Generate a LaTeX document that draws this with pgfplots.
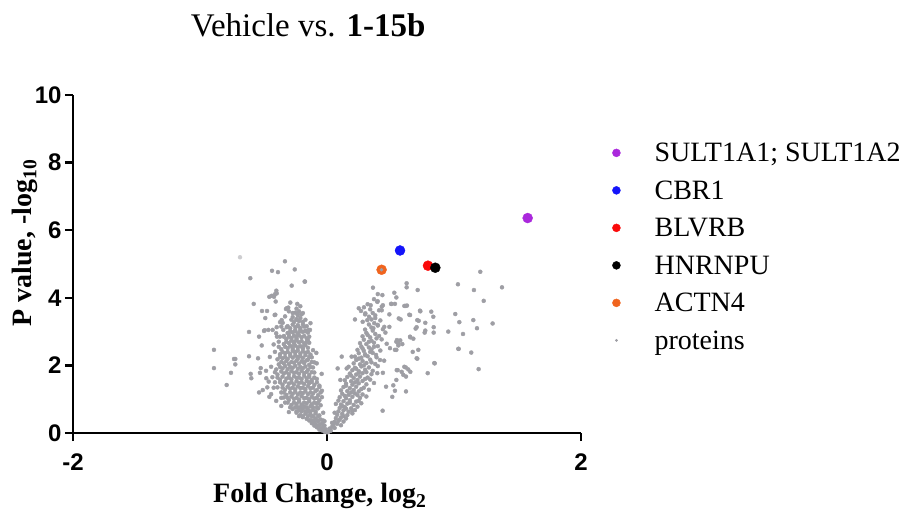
\documentclass[border=0pt]{standalone}
\usepackage{fontspec}
\setmainfont{Liberation Serif}
\newfontfamily\arial{Liberation Sans}
\usepackage{pgfplots}
\usepackage{pgfplotstable}
\pgfplotsset{compat=1.18}
\definecolor{pgray}{RGB}{158,158,164}
\definecolor{plgray}{RGB}{205,205,208}
\definecolor{ppurple}{RGB}{170,40,220}
\definecolor{pblue}{RGB}{20,20,250}
\definecolor{pred}{RGB}{250,10,10}
\definecolor{porange}{RGB}{240,100,30}

% gray "proteins" cloud
\pgfplotstableread[row sep=\\]{x y\\
-0.02 0.04\\ -0.04 0.08\\ 0.00 0.02\\ -0.01 0.11\\
-0.05 0.14\\ -0.03 0.19\\ -0.08 0.17\\ -0.06 0.24\\
-0.09 0.26\\ -0.12 0.29\\ -0.04 0.28\\ -0.10 0.33\\ -0.07 0.35\\
-0.13 0.38\\ -0.16 0.42\\ -0.09 0.43\\ -0.05 0.40\\ -0.19 0.47\\ -0.12 0.49\\
-0.21 0.53\\ -0.17 0.57\\ -0.13 0.55\\ -0.09 0.58\\ -0.06 0.52\\ -0.24 0.60\\ -0.15 0.63\\
-0.22 0.67\\ -0.19 0.72\\ -0.15 0.70\\ -0.11 0.68\\ -0.07 0.73\\ -0.27 0.71\\ -0.25 0.76\\ -0.18 0.78\\ -0.13 0.79\\
-0.28 0.83\\ -0.24 0.86\\ -0.20 0.84\\ -0.16 0.88\\ -0.12 0.85\\ -0.08 0.87\\ -0.05 0.82\\ -0.31 0.90\\ -0.22 0.93\\ -0.14 0.94\\
-0.30 0.98\\ -0.26 1.01\\ -0.22 0.99\\ -0.18 1.03\\ -0.14 1.00\\ -0.10 1.02\\ -0.06 0.97\\ -0.34 1.05\\ -0.28 1.08\\ -0.20 1.09\\ -0.12 1.07\\ -0.04 1.06\\
-0.32 1.13\\ -0.27 1.16\\ -0.23 1.14\\ -0.19 1.18\\ -0.15 1.15\\ -0.11 1.17\\ -0.07 1.12\\ -0.36 1.20\\ -0.25 1.22\\ -0.17 1.23\\ -0.09 1.24\\
-0.33 1.28\\ -0.29 1.31\\ -0.25 1.29\\ -0.21 1.33\\ -0.17 1.30\\ -0.13 1.32\\ -0.08 1.27\\ -0.39 1.35\\ -0.31 1.37\\ -0.23 1.38\\ -0.15 1.39\\ -0.06 1.36\\
-0.35 1.43\\ -0.30 1.46\\ -0.26 1.44\\ -0.22 1.48\\ -0.18 1.45\\ -0.14 1.47\\ -0.10 1.42\\ -0.41 1.50\\ -0.33 1.52\\ -0.24 1.53\\ -0.16 1.54\\ -0.12 1.51\\
-0.37 1.58\\ -0.32 1.61\\ -0.28 1.59\\ -0.24 1.63\\ -0.20 1.60\\ -0.16 1.62\\ -0.12 1.57\\ -0.08 1.60\\ -0.43 1.65\\ -0.35 1.67\\ -0.26 1.68\\ -0.18 1.69\\ -0.14 1.66\\
-0.39 1.73\\ -0.34 1.76\\ -0.30 1.74\\ -0.26 1.78\\ -0.22 1.75\\ -0.18 1.77\\ -0.14 1.72\\ -0.10 1.79\\ -0.36 1.82\\ -0.28 1.83\\ -0.20 1.84\\ -0.16 1.81\\
-0.40 1.88\\ -0.35 1.91\\ -0.31 1.89\\ -0.27 1.93\\ -0.23 1.90\\ -0.19 1.92\\ -0.15 1.87\\ -0.11 1.94\\ -0.44 1.96\\ -0.33 1.98\\ -0.25 1.99\\ -0.17 1.97\\
-0.38 2.03\\ -0.34 2.06\\ -0.30 2.04\\ -0.26 2.08\\ -0.22 2.05\\ -0.18 2.07\\ -0.14 2.02\\ -0.10 2.09\\ -0.32 2.13\\ -0.24 2.14\\ -0.20 2.12\\ -0.16 2.15\\
-0.39 2.18\\ -0.35 2.21\\ -0.31 2.19\\ -0.27 2.23\\ -0.23 2.20\\ -0.19 2.22\\ -0.15 2.17\\ -0.12 2.24\\ -0.29 2.28\\ -0.25 2.29\\ -0.21 2.27\\ -0.17 2.30\\
-0.37 2.33\\ -0.33 2.36\\ -0.29 2.34\\ -0.25 2.38\\ -0.21 2.35\\ -0.17 2.37\\ -0.13 2.32\\ -0.27 2.43\\ -0.23 2.44\\ -0.19 2.42\\ -0.41 2.40\\
-0.36 2.48\\ -0.31 2.51\\ -0.27 2.49\\ -0.23 2.53\\ -0.19 2.50\\ -0.15 2.52\\ -0.29 2.58\\ -0.25 2.59\\ -0.21 2.57\\ -0.17 2.60\\
-0.34 2.63\\ -0.30 2.66\\ -0.26 2.64\\ -0.22 2.68\\ -0.18 2.65\\ -0.14 2.67\\ -0.28 2.73\\ -0.24 2.74\\ -0.20 2.72\\ -0.38 2.70\\
-0.32 2.78\\ -0.28 2.81\\ -0.24 2.79\\ -0.20 2.83\\ -0.16 2.80\\ -0.26 2.88\\ -0.22 2.89\\ -0.18 2.87\\ -0.30 2.92\\
-0.31 2.96\\ -0.27 2.98\\ -0.23 2.95\\ -0.19 2.99\\ -0.15 2.97\\ -0.25 3.04\\ -0.21 3.05\\ -0.17 3.03\\
-0.29 3.10\\ -0.25 3.13\\ -0.21 3.11\\ -0.18 3.15\\ -0.23 3.19\\ -0.27 3.21\\ -0.19 3.22\\
-0.26 3.28\\ -0.22 3.31\\ -0.19 3.29\\ -0.24 3.37\\ -0.21 3.40\\ -0.27 3.43\\
-0.23 3.48\\ -0.20 3.51\\ -0.25 3.56\\ -0.22 3.60\\ -0.24 3.68\\ -0.21 3.75\\
-0.03 0.10\\ -0.06 0.10\\ -0.07 0.22\\ -0.10 0.22\\ -0.02 0.22\\ -0.11 0.37\\ -0.14 0.37\\ -0.07 0.37\\ -0.03 0.37\\
-0.15 0.50\\ -0.19 0.50\\ -0.11 0.50\\ -0.07 0.50\\ -0.22 0.50\\ -0.20 0.64\\ -0.17 0.64\\ -0.13 0.64\\ -0.09 0.64\\ -0.24 0.64\\
-0.23 0.76\\ -0.21 0.76\\ -0.16 0.76\\ -0.11 0.76\\ -0.08 0.76\\ -0.29 0.76\\ -0.26 0.90\\ -0.18 0.90\\ -0.10 0.90\\ -0.07 0.90\\ -0.33 0.90\\
-0.24 1.04\\ -0.16 1.04\\ -0.08 1.04\\ -0.31 1.04\\ -0.36 1.04\\ -0.29 1.20\\ -0.21 1.20\\ -0.13 1.20\\ -0.05 1.20\\ -0.34 1.20\\
-0.27 1.34\\ -0.19 1.34\\ -0.11 1.34\\ -0.35 1.34\\ -0.42 1.34\\ -0.28 1.50\\ -0.20 1.50\\ -0.14 1.50\\ -0.08 1.50\\ -0.37 1.50\\
-0.30 1.64\\ -0.22 1.64\\ -0.10 1.64\\ -0.39 1.64\\ -0.32 1.80\\ -0.24 1.80\\ -0.12 1.80\\ -0.41 1.80\\
-0.29 1.95\\ -0.21 1.95\\ -0.13 1.95\\ -0.37 1.95\\ -0.36 2.10\\ -0.28 2.10\\ -0.18 2.10\\ -0.12 2.10\\
-0.33 2.25\\ -0.23 2.25\\ -0.14 2.25\\ -0.37 2.25\\ -0.35 2.40\\ -0.31 2.40\\ -0.25 2.40\\ -0.15 2.40\\
-0.33 2.55\\ -0.27 2.55\\ -0.19 2.55\\ -0.38 2.55\\ -0.32 2.70\\ -0.26 2.70\\ -0.16 2.70\\
-0.34 2.85\\ -0.30 2.85\\ -0.24 2.85\\ -0.14 2.85\\ -0.29 3.01\\ -0.25 3.01\\ -0.21 3.01\\ -0.17 3.01\\
-0.31 3.16\\ -0.23 3.16\\ -0.16 3.16\\ -0.28 3.35\\ -0.24 3.35\\ -0.17 3.35\\ -0.27 3.55\\ -0.19 3.55\\
-0.44 1.15\\ -0.40 0.95\\ -0.36 0.80\\ -0.30 0.62\\ -0.47 1.35\\ -0.45 2.25\\ -0.42 2.62\\ -0.40 2.95\\ -0.36 3.15\\ -0.33 3.45\\ -0.30 3.60\\ -0.13 3.25\\ -0.15 2.75\\ -0.11 2.45\\ -0.06 1.40\\ -0.04 1.25\\ -0.03 0.60\\ -0.02 0.35\\
-0.604 4.58\\ -0.577 3.82\\ -0.512 3.61\\ -0.472 3.61\\ -0.486 3.40\\ -0.614 2.99\\ -0.496 3.02\\ -0.535 2.85\\ -0.890 2.46\\ -0.514 2.59\\
-0.732 2.19\\ -0.722 2.19\\ -0.722 2.03\\ -0.614 2.27\\ -0.543 2.21\\ -0.890 1.92\\ -0.756 1.78\\ -0.790 1.42\\ -0.601 1.75\\ -0.596 1.62\\
-0.522 1.92\\ -0.528 1.78\\ -0.480 1.84\\ -0.478 1.62\\ -0.459 1.52\\ -0.506 1.27\\ -0.535 1.20\\ -0.454 1.07\\ -0.454 4.03\\ -0.331 5.08\\
-0.433 4.80\\ -0.386 4.76\\ -0.254 4.84\\ -0.173 4.48\\ -0.278 4.36\\ -0.399 4.21\\ -0.409 4.11\\ -0.435 4.06\\ -0.404 3.89\\ -0.289 3.86\\
-0.305 3.71\\ -0.323 3.67\\ -0.407 3.50\\ -0.231 3.52\\ -0.357 3.34\\ -0.370 3.28\\ -0.491 3.04\\ -0.462 3.05\\ -0.144 3.05\\ -0.394 2.85\\
-0.084 2.37\\ -0.042 1.75\\ -0.081 2.06\\ -0.396 4.13\\ -0.417 4.03\\ -0.234 3.82\\ -0.317 3.69\\ -0.412 3.49\\ -0.349 3.26\\ -0.428 3.05\\
-0.396 3.13\\ -0.344 3.05\\ -0.317 3.13\\ -0.370 2.85\\ -0.339 2.87\\ -0.176 4.48\\ -0.134 3.05\\
0.01 0.03\\ 0.03 0.07\\ 0.02 0.13\\ 0.04 0.18\\ 0.06 0.15\\
0.05 0.24\\ 0.08 0.27\\ 0.11 0.23\\ 0.06 0.33\\ 0.09 0.36\\ 0.13 0.34\\
0.07 0.44\\ 0.11 0.46\\ 0.15 0.43\\ 0.08 0.54\\ 0.12 0.57\\ 0.16 0.53\\ 0.20 0.58\\
0.09 0.64\\ 0.13 0.67\\ 0.17 0.63\\ 0.22 0.68\\ 0.10 0.74\\ 0.14 0.77\\ 0.19 0.73\\ 0.24 0.78\\
0.07 0.86\\ 0.11 0.84\\ 0.16 0.87\\ 0.21 0.83\\ 0.27 0.88\\ 0.09 0.96\\ 0.13 0.94\\ 0.18 0.97\\ 0.23 0.93\\
0.10 1.06\\ 0.15 1.03\\ 0.20 1.07\\ 0.26 1.04\\ 0.31 1.08\\ 0.12 1.16\\ 0.17 1.13\\ 0.22 1.17\\ 0.28 1.14\\
0.11 1.26\\ 0.16 1.24\\ 0.21 1.27\\ 0.25 1.23\\ 0.33 1.28\\ 0.13 1.36\\ 0.18 1.33\\ 0.23 1.37\\ 0.29 1.34\\
0.15 1.46\\ 0.20 1.43\\ 0.25 1.47\\ 0.31 1.44\\ 0.37 1.48\\ 0.14 1.56\\ 0.19 1.53\\ 0.24 1.57\\ 0.28 1.54\\ 0.34 1.58\\
0.16 1.66\\ 0.21 1.63\\ 0.26 1.67\\ 0.32 1.64\\ 0.18 1.76\\ 0.23 1.73\\ 0.28 1.77\\ 0.35 1.74\\ 0.44 1.78\\
0.20 1.86\\ 0.25 1.83\\ 0.30 1.87\\ 0.36 1.84\\ 0.17 1.96\\ 0.22 1.93\\ 0.27 1.97\\ 0.33 1.94\\ 0.40 1.98\\
0.21 2.06\\ 0.26 2.03\\ 0.31 2.07\\ 0.38 2.04\\ 0.23 2.16\\ 0.28 2.13\\ 0.34 2.17\\ 0.45 2.14\\
0.22 2.26\\ 0.27 2.23\\ 0.32 2.27\\ 0.39 2.24\\ 0.25 2.36\\ 0.30 2.33\\ 0.36 2.37\\
0.24 2.46\\ 0.29 2.43\\ 0.35 2.47\\ 0.42 2.44\\ 0.27 2.56\\ 0.33 2.53\\ 0.40 2.57\\
0.26 2.66\\ 0.31 2.63\\ 0.37 2.67\\ 0.47 2.64\\ 0.29 2.76\\ 0.35 2.73\\ 0.43 2.77\\
0.28 2.86\\ 0.34 2.83\\ 0.41 2.87\\ 0.31 2.96\\ 0.38 2.93\\ 0.46 2.97\\
0.30 3.06\\ 0.36 3.03\\ 0.44 3.07\\ 0.33 3.21\\ 0.40 3.18\\ 0.35 3.36\\ 0.42 3.33\\
0.30 3.51\\ 0.38 3.48\\ 0.34 3.66\\ 0.41 3.63\\ 0.32 3.81\\ 0.44 3.78\\ 0.37 3.96\\ 0.40 4.11\\
0.04 0.30\\ 0.10 0.40\\ 0.13 0.50\\ 0.06 0.60\\ 0.15 0.72\\ 0.20 0.66\\ 0.12 0.80\\ 0.18 0.90\\ 0.25 0.95\\ 0.14 1.10\\
0.24 1.12\\ 0.19 1.20\\ 0.27 1.30\\ 0.15 1.40\\ 0.22 1.50\\ 0.30 1.60\\ 0.19 1.70\\ 0.25 1.78\\ 0.31 1.80\\ 0.23 1.90\\
0.29 2.00\\ 0.35 2.09\\ 0.25 2.20\\ 0.30 2.30\\ 0.34 2.40\\ 0.28 2.50\\ 0.37 2.55\\ 0.33 2.70\\ 0.39 2.80\\ 0.32 2.90\\
0.35 3.12\\ 0.38 3.40\\ 0.36 3.55\\
1.207 4.77\\ 1.031 4.40\\ 1.157 4.23\\ 1.378 4.31\\ 1.234 3.91\\ 1.010 3.52\\ 1.042 3.28\\ 1.152 3.34\\ 1.304 3.24\\ 1.181 3.10\\
0.955 3.00\\ 1.071 2.93\\ 1.034 2.49\\ 1.136 2.38\\ 1.194 1.89\\ 0.845 2.07\\ 0.793 1.77\\ 0.622 1.23\\ 0.438 0.66\\ 0.714 4.23\\
0.627 4.43\\ 0.627 4.31\\ 0.362 4.30\\ 0.436 4.08\\ 0.530 4.15\\ 0.546 4.01\\ 0.509 3.82\\ 0.535 3.82\\ 0.620 3.76\\ 0.732 3.62\\
0.821 3.59\\ 0.837 3.44\\ 0.654 3.49\\ 0.711 3.34\\ 0.565 3.39\\ 0.580 3.36\\ 0.396 3.88\\ 0.250 3.69\\ 0.268 3.61\\ 0.220 3.36\\
0.302 3.54\\ 0.331 3.44\\ 0.706 3.13\\ 0.698 3.09\\ 0.774 3.03\\ 0.840 3.13\\ 0.840 2.97\\ 0.654 2.85\\ 0.680 2.79\\ 0.719 2.46\\
0.706 2.21\\ 0.496 2.51\\ 0.535 2.46\\ 0.551 2.75\\ 0.561 2.65\\ 0.620 1.94\\ 0.557 1.86\\ 0.588 1.81\\ 0.622 1.67\\ 0.522 1.41\\
0.535 1.25\\ 0.514 1.07\\ 0.465 1.37\\ 0.396 1.77\\ 0.386 2.31\\ 0.417 2.16\\ 0.116 2.26\\ 0.194 2.26\\ 0.084 1.91\\ 0.155 1.91\\
0.105 1.57\\ 0.609 3.76\\ 0.630 3.77\\ 0.735 3.60\\ 0.648 3.50\\ 0.722 3.32\\ 0.774 3.26\\ 0.769 2.97\\ 0.656 2.83\\ 0.546 2.70\\
0.577 2.74\\ 0.593 2.63\\ 0.562 2.59\\ 0.546 2.46\\ 0.675 2.40\\ 0.711 2.20\\ 0.848 2.06\\ 1.037 2.49\\ 0.609 1.96\\ 0.640 1.88\\
0.656 1.81\\ 0.549 1.86\\ 0.601 1.72\\ 0.546 1.57\\ 0.491 3.51\\ 0.344 3.78\\ 0.291 3.72\\ 0.399 3.90\\ 0.504 3.82\\ 0.431 3.63\\
0.431 3.74\\ 0.372 3.25\\ 0.399 3.20\\ 0.365 3.10\\ 0.451 3.14\\ 0.491 3.14\\ 0.317 3.34\\ 0.281 3.29\\ 0.43 4.83\\
}\proteins

\begin{document}
\begin{tikzpicture}
\path[use as bounding box] (0,0) rectangle (904pt,515pt);
\begin{axis}[
  at={(73pt,82pt)}, anchor=south west,
  scale only axis, width=508pt, height=338pt,
  xmin=-2, xmax=2, ymin=0, ymax=10,
  axis x line=bottom, axis y line=left,
  axis line style={-, line width=2.4pt, black},
  xtick={-2,0,2}, xticklabels={-2,0,2},
  ytick={0,2,4,6,8,10}, yticklabels={0,2,4,6,8,10},
  tick align=outside, major tick length=8pt,
  tick style={line width=2.4pt, black},
  ticklabel style={font=\arial\bfseries\fontsize{24}{24}\selectfont},
  xticklabel style={yshift=-9pt},
  title={Vehicle vs. \textbf{1-15b}},
  title style={at={(axis description cs:0.463,1.155)}, anchor=base, font=\fontsize{33}{33}\selectfont},
  xlabel={Fold Change, log\textsubscript{2}},
  xlabel style={at={(axis description cs:0.486,-0.207)}, anchor=base, font=\bfseries\fontsize{28}{28}\selectfont},
  ylabel={P value, -log\textsubscript{10}},
  ylabel style={at={(axis description cs:-0.081,0.562)}, anchor=base, font=\bfseries\fontsize{28}{28}\selectfont},
  legend cell align=left,
  legend image code/.code={\path (0pt,0pt) (50pt,0pt);\draw[mark repeat=2,mark phase=2,#1] plot coordinates {(0pt,0pt) (12pt,0pt) (50pt,0pt)};},
  legend style={at={(axis description cs:1.0453,0.856)}, anchor=north west, draw=none, fill=none,
    inner sep=0pt, row sep=19.5pt, font=\fontsize{28}{28}\selectfont,
    nodes={inner sep=0pt, text height=18pt, text depth=0pt}},
]
\addplot[only marks, mark=*, mark size=2pt, color=pgray, forget plot] table[x=x,y=y] {\proteins};
\addplot[only marks, mark=*, mark size=2pt, color=plgray, forget plot] coordinates {(-0.685,5.20)};
\addplot[only marks, mark=*, mark size=5pt, color=ppurple, forget plot] coordinates {(1.58,6.36)};
\addplot[only marks, mark=*, mark size=5pt, color=pblue, forget plot] coordinates {(0.575,5.40)};
\addplot[only marks, mark=*, mark size=5pt, color=pred, forget plot] coordinates {(0.795,4.95)};
\addplot[only marks, mark=*, mark size=5pt, color=black, forget plot] coordinates {(0.853,4.89)};
\addplot[only marks, mark=*, mark size=5pt, color=porange, forget plot] coordinates {(0.43,4.83)};
\addplot[only marks, mark=*, mark size=1.6pt, color=pgray, forget plot] coordinates {(0.43,4.83)};
\addlegendimage{only marks, mark=*, mark size=4pt, color=ppurple}
\addlegendentry{SULT1A1; SULT1A2}
\addlegendimage{only marks, mark=*, mark size=4pt, color=pblue}
\addlegendentry{CBR1}
\addlegendimage{only marks, mark=*, mark size=4pt, color=pred}
\addlegendentry{BLVRB}
\addlegendimage{only marks, mark=*, mark size=4pt, color=black}
\addlegendentry{HNRNPU}
\addlegendimage{only marks, mark=*, mark size=4pt, color=porange}
\addlegendentry{ACTN4}
\addlegendimage{only marks, mark=*, mark size=1.2pt, color=pgray}
\addlegendentry{proteins}
\end{axis}
\end{tikzpicture}
\end{document}
